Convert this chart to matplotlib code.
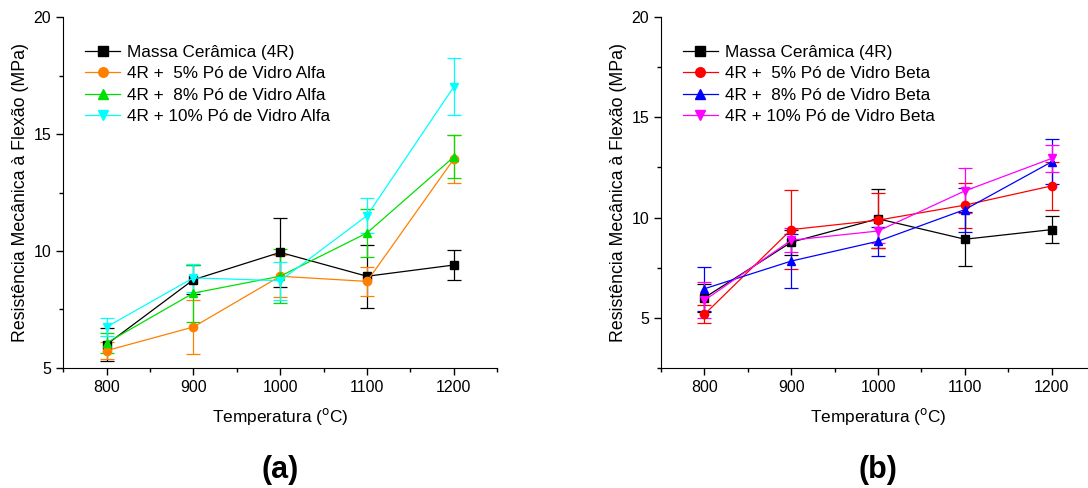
import matplotlib.pyplot as plt
from matplotlib.ticker import MultipleLocator

plt.rcParams['font.family'] = ['Liberation Sans', 'DejaVu Sans']

temps = [800, 900, 1000, 1100, 1200]

# ceramic body (same in both panels)
massa = [6.0, 8.77, 9.94, 8.92, 9.40]
massa_err = [0.70, 0.62, 1.47, 1.34, 0.66]

# panel (a) - Alfa glass powder
alfa5 = [5.74, 6.75, 8.92, 8.70, 13.93]
alfa5_err = [0.35, 1.14, 0.90, 0.62, 1.02]
alfa8 = [6.07, 8.20, 8.92, 10.77, 14.02]
alfa8_err = [0.42, 1.22, 1.15, 1.02, 0.92]
alfa10 = [6.75, 8.85, 8.73, 11.51, 17.02]
alfa10_err = [0.38, 0.60, 0.82, 0.76, 1.21]

# panel (b) - Beta glass powder
beta5 = [5.17, 9.40, 9.87, 10.62, 11.58]
beta5_err = [0.45, 1.98, 1.37, 1.12, 1.20]
beta8 = [6.45, 7.83, 8.82, 10.40, 12.78]
beta8_err = [1.10, 1.33, 0.72, 1.10, 1.12]
beta10 = [5.87, 8.87, 9.33, 11.33, 12.95]
beta10_err = [0.90, 0.60, 0.62, 1.12, 0.67]

labels_a = ['Massa Cerâmica (4R)', '4R +  5% Pó de Vidro Alfa',
            '4R +  8% Pó de Vidro Alfa', '4R + 10% Pó de Vidro Alfa']
labels_b = ['Massa Cerâmica (4R)', '4R +  5% Pó de Vidro Beta',
            '4R +  8% Pó de Vidro Beta', '4R + 10% Pó de Vidro Beta']

fig = plt.figure(figsize=(10.88, 4.88), dpi=100)
ax1 = fig.add_axes([0.058, 0.246, 0.399, 0.719])
ax2 = fig.add_axes([0.6075, 0.246, 0.399, 0.719])


def panel(ax, series, labels, colors, markers, ylim, letter):
    for (y, e), lab, c, m in zip(series, labels, colors, markers):
        ax.errorbar(temps, y, yerr=e, color=c, marker=m, markersize=6,
                    lw=0.9, elinewidth=0.9, capsize=5, capthick=0.9, label=lab)
    ax.set_xlim(750, 1250)
    ax.set_ylim(*ylim)
    ax.xaxis.set_major_locator(MultipleLocator(100))
    ax.xaxis.set_minor_locator(MultipleLocator(50))
    ax.yaxis.set_major_locator(MultipleLocator(5))
    ax.yaxis.set_minor_locator(MultipleLocator(2.5))
    ax.tick_params(which='major', direction='out', length=5, width=1, labelsize=11.5)
    ax.tick_params(which='minor', direction='out', length=3, width=1)
    for s in ['top', 'right']:
        ax.spines[s].set_visible(False)
    ax.set_xlabel('Temperatura ($^{\\mathrm{o}}$C)', fontsize=12.4, labelpad=8)
    ax.set_ylabel('Resistência Mecânica à Flexão (MPa)', fontsize=12.8, labelpad=3)
    handles, labs = ax.get_legend_handles_labels()
    handles = [h[0] for h in handles]
    ax.legend(handles, labs, loc='upper left', bbox_to_anchor=(0.035, 0.94),
              frameon=False, fontsize=12.3, handlelength=2.05, handletextpad=0.4,
              labelspacing=0.38, borderaxespad=0, markerscale=1.15)
    ax.text(0.5, -0.29, letter, transform=ax.transAxes, ha='center', va='center',
            fontsize=22, fontweight='bold')


panel(ax1,
      [(massa, massa_err), (alfa5, alfa5_err), (alfa8, alfa8_err), (alfa10, alfa10_err)],
      labels_a, ['black', '#ff8000', '#00e000', '#00ffff'], ['s', 'o', '^', 'v'],
      (5, 20), '(a)')
panel(ax2,
      [(massa, massa_err), (beta5, beta5_err), (beta8, beta8_err), (beta10, beta10_err)],
      labels_b, ['black', '#ff0000', '#0000ff', '#ff00ff'], ['s', 'o', '^', 'v'],
      (2.5, 20), '(b)')

fig.savefig('out.png', dpi=100)
